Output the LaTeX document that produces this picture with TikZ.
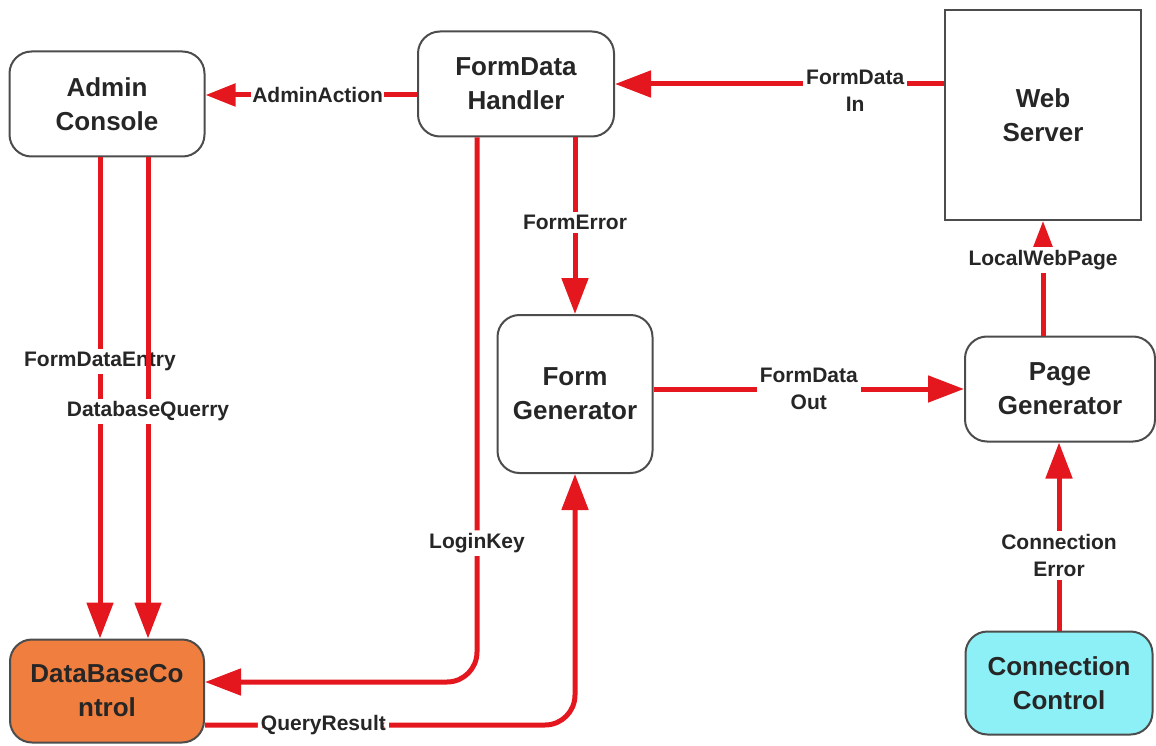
\documentclass[tikz,border=0pt]{standalone}
\usepackage{fontspec}
\setmainfont{Liberation Sans}
\usetikzlibrary{arrows.meta}
\definecolor{flowred}{RGB}{228,22,30}
\definecolor{dbfill}{RGB}{240,126,62}
\definecolor{ccfill}{RGB}{140,240,246}

\begin{document}
\begin{tikzpicture}[x=1pt,y=-1pt,
  proc/.style={draw=black!70, line width=2pt, rounded corners=22pt, align=center, inner sep=0pt, text=black!85, font=\fontsize{26}{34}\selectfont\bfseries},
  flow/.style={draw=flowred, line width=5pt, -{Triangle[length=36pt,width=26pt]}},
  lbl/.style={fill=white, inner sep=3pt, align=center, text=black!85, font=\fontsize{21}{27}\selectfont\bfseries}]
\useasboundingbox (0,0) rectangle (1156,746);
\node[proc, minimum width=195pt, minimum height=105pt] (admin) at (107,104) {Admin\\Console};
\node[proc, minimum width=196pt, minimum height=105pt] (hand) at (516,84) {FormData\\Handler};
\node[proc, sharp corners, minimum width=196pt, minimum height=210pt] (ws) at (1043,115) {Web\\Server};
\node[proc, minimum width=155pt, minimum height=158pt] (fgen) at (575,394) {Form\\Generator};
\node[proc, minimum width=190pt, minimum height=105pt] (pgen) at (1060,389) {Page\\Generator};
\node[proc, fill=dbfill, minimum width=194pt, minimum height=103pt] (db) at (107,691) {DataBaseCo\\ntrol};
\node[proc, fill=ccfill, minimum width=187pt, minimum height=103pt] (conn) at (1059,683) {Connection\\Control};
\coordinate (lk) at ([xshift=-39pt]hand.south);
\coordinate (dbin) at ([yshift=9pt]db.east);
\coordinate (qr) at ([yshift=-34pt]db.east);
\draw[flow] (ws.west |- hand.east) -- node[lbl, pos=0.27, yshift=-7pt] {FormData\\In} (hand.east);
\draw[flow, -{Triangle[length=30pt,width=22pt]}] ([yshift=-11pt]hand.west) -- node[lbl, pos=0.47, inner sep=1pt] {AdminAction} ([yshift=-11pt]hand.west -| admin.east);
\draw[flow] (hand.south -| fgen.north) -- node[lbl, pos=0.48] {FormError} (fgen.north);
\draw[flow, rounded corners=30pt] (lk) -- node[lbl, pos=0.745] {LoginKey} (lk |- dbin) -- (dbin);
\draw[flow] ([xshift=-7pt]admin.south) -- node[lbl, pos=0.424] {FormDataEntry} ([xshift=-7pt]db.north);
\draw[flow] ([xshift=41pt]admin.south) -- node[lbl, pos=0.528] {DatabaseQuerry} ([xshift=41pt]db.north);
\draw[flow, rounded corners=30pt] (qr) -- node[lbl, pos=0.32] {QueryResult} (qr -| fgen.south) -- (fgen.south);
\draw[flow] (fgen.east |- pgen.west) -- node[lbl, pos=0.5] {FormData\\Out} (pgen.west);
\draw[flow] (ws.south |- pgen.north) -- node[lbl, pos=0.66] {LocalWebPage} (ws.south);
\draw[flow] (conn.north) -- node[lbl, pos=0.4] {Connection\\Error} (conn.north |- pgen.south);
\end{tikzpicture}
\end{document}
